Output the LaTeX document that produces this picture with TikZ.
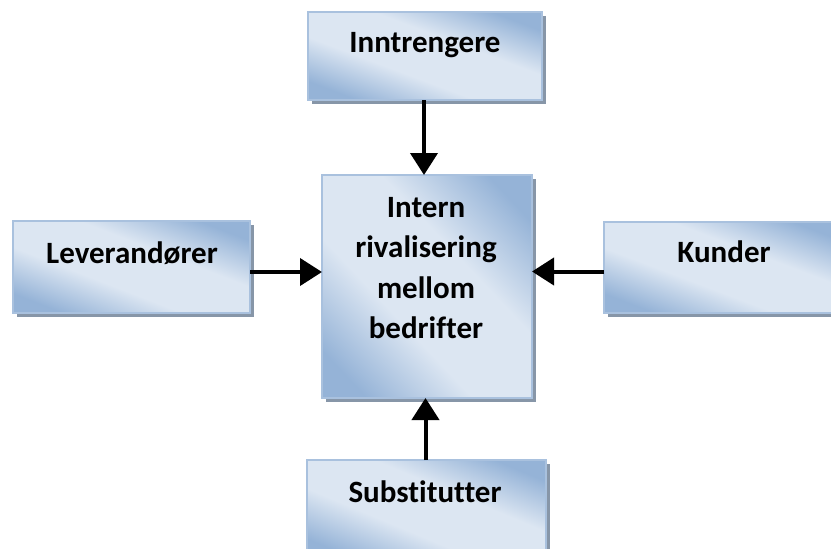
\documentclass[tikz,border=0pt]{standalone}
\usepackage{fontspec}
\setmainfont[Ligatures=NoCommon]{Carlito}
\usetikzlibrary{arrows.meta,shadows}

\definecolor{boxdark}{HTML}{95B3D7}
\definecolor{boxlight}{HTML}{DCE6F2}
\definecolor{boxline}{HTML}{A9C1DE}
\definecolor{shadowc}{HTML}{8796A8}

% dark corners, a broad light band across the middle
\pgfdeclareverticalshading{forceshade}{100bp}{%
  color(0bp)=(boxdark); color(22bp)=(boxdark); color(40bp)=(boxlight);
  color(60bp)=(boxlight); color(78bp)=(boxdark); color(100bp)=(boxdark)}

\tikzset{
  force/.style={
    fill=boxlight,
    general shadow={fill=shadowc, shadow xshift=4pt, shadow yshift=-4pt},
    inner sep=0pt, outer sep=0pt, anchor=north west
  },
  rim/.style={draw=boxline, line width=1.2pt},
  lbl/.style={font=\fontsize{31}{40.5}\selectfont\bfseries, align=center, inner sep=0pt},
  push/.style={line width=4pt, -{Triangle[width=27pt,length=22pt]}}
}

% a force box: name, left, top, width, height; the gradient runs corner to corner
\newcommand\forcebox[5]{%
  \node[force, minimum width=#4pt, minimum height=#5pt] (#1) at (#2,#3) {};
  \shade[shading=forceshade, shading angle=-45,
    transform canvas={shift={(#2,#3)}, xscale=#4/100, yscale=#5/100}]
    (0,0) rectangle (100,100);
  \draw[rim] (#1.north west) rectangle (#1.south east);}

\begin{document}
\begin{tikzpicture}[x=1pt,y=-1pt]
  \useasboundingbox (0,0) rectangle (831,549);
  \clip (0,0) rectangle (831,549);

  % the five boxes
  \forcebox{inn}{308}{12}{234}{88}
  \forcebox{mid}{322}{175}{210}{223}
  \forcebox{lev}{13}{221}{237}{92}
  \forcebox{kun}{604}{222}{240}{91}
  \forcebox{sub}{307}{460}{239}{100}

  % labels
  \node[lbl] (tinn) at (425,45) {Inntrengere};
  \node[lbl] (tmid) at (426,268) {Intern\\rivalisering\\mellom\\bedrifter};
  \node[lbl] (tlev) at (132,253) {Leverandører};
  \node[lbl] (tkun) at (724,252) {Kunder};
  \node[lbl] (tsub) at (425,492) {Substitutter};

  % the four pressures on the industry
  \draw[push] ([xshift=-1pt]inn.south) -- ([xshift=-1pt]inn.south |- mid.north);
  \draw[push] ([yshift=-5pt]lev.east) -- ([yshift=-5pt]lev.east -| mid.west);
  \draw[push] ([yshift=-4pt]kun.west) -- ([yshift=-4pt]kun.west -| mid.east);
  \draw[push] ([xshift=-1pt]sub.north) -- ([xshift=-1pt]sub.north |- mid.south);
\end{tikzpicture}
\end{document}
